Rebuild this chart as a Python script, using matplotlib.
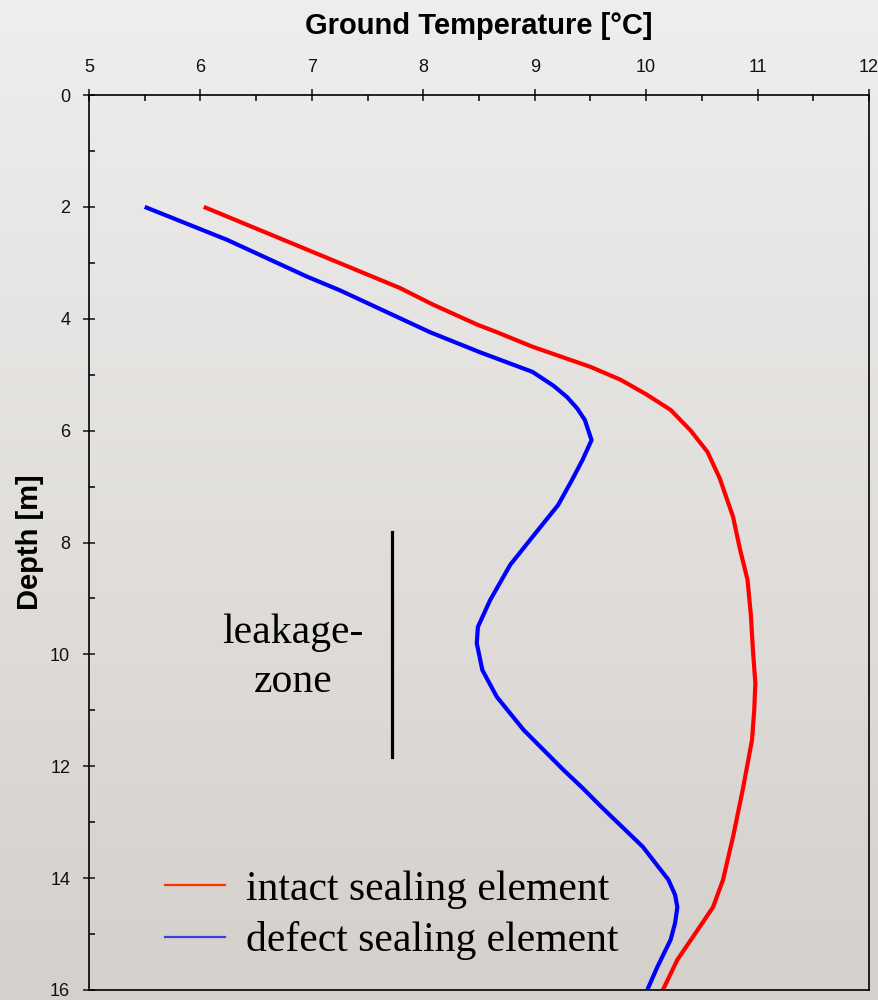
import numpy as np
import matplotlib.pyplot as plt
from matplotlib.lines import Line2D
from matplotlib.ticker import MultipleLocator

# data: depth [m] and ground temperature [C]
depth_intact = [2.0, 3.45, 3.75, 4.11, 4.24, 4.5, 4.86, 5.09, 5.35, 5.63, 6.0, 6.38, 6.85,
                7.54, 8.1, 8.67, 9.3, 9.97, 10.51, 11.0, 11.53, 12.39, 13.26, 14.03, 14.52,
                15.05, 15.46, 16.0]
temp_intact = [6.03, 7.79, 8.09, 8.49, 8.66, 8.98, 9.5, 9.77, 10.0, 10.22, 10.4, 10.55, 10.66,
               10.78, 10.84, 10.91, 10.94, 10.96, 10.98, 10.97, 10.95, 10.87, 10.78, 10.69, 10.6,
               10.42, 10.28, 10.15]

depth_defect = [2.0, 2.59, 3.25, 3.49, 3.99, 4.24, 4.6, 4.95, 5.2, 5.4, 5.6, 5.81, 6.17, 6.52,
                6.9, 7.33, 7.95, 8.4, 9.03, 9.51, 9.8, 10.28, 10.76, 11.35, 12.07, 12.39,
                12.73, 13.44, 14.03, 14.3, 14.52, 14.8, 15.1, 15.59, 16.0]
temp_defect = [5.5, 6.24, 6.96, 7.25, 7.79, 8.06, 8.51, 8.98, 9.17, 9.29, 9.38, 9.45, 9.51, 9.43,
               9.33, 9.21, 8.96, 8.78, 8.6, 8.49, 8.48, 8.53, 8.66, 8.9, 9.26, 9.43,
               9.6, 9.97, 10.2, 10.26, 10.28, 10.26, 10.22, 10.1, 10.01]

labels = ['intact sealing element', 'defect sealing element']

# leakage zone marker
leak_temp = 7.72
leak_top = 7.81
leak_bottom = 11.83

fig = plt.figure(figsize=(8.79, 10), dpi=100)

# gray gradient background
bg = fig.add_axes([0, 0, 1, 1], zorder=-10)
top_c = np.array([239, 238, 237]) / 255
bot_c = np.array([212, 208, 204]) / 255
t = np.linspace(0, 1, 256)[:, None, None]
grad = top_c * (1 - t) + bot_c * t
bg.imshow(np.repeat(grad, 2, axis=1), aspect='auto', extent=[0, 1, 0, 1])
bg.axis('off')

ax = fig.add_axes([89 / 879, 0.01, 780 / 879, 0.895])
ax.patch.set_alpha(0)

ax.plot(temp_intact, depth_intact, color='#ff0000', lw=3, solid_capstyle='butt',
        solid_joinstyle='round')
ax.plot(temp_defect, depth_defect, color='#0000ff', lw=3, solid_capstyle='butt',
        solid_joinstyle='round')
ax.plot([leak_temp, leak_temp], [leak_top, leak_bottom], color='black', lw=2.3)

ax.text(6.83, 10.05, 'leakage-\nzone', family='Liberation Serif', fontsize=30,
        ha='center', va='center', linespacing=1.38)

ax.set_xlim(5, 12)
ax.set_ylim(16, 0)
ax.xaxis.tick_top()
ax.xaxis.set_label_position('top')
ax.xaxis.set_major_locator(MultipleLocator(1))
ax.xaxis.set_minor_locator(MultipleLocator(0.5))
ax.yaxis.set_major_locator(MultipleLocator(2))
ax.yaxis.set_minor_locator(MultipleLocator(1))
ax.tick_params(which='major', direction='inout', length=9, width=1.1,
               labelsize=13, pad=9, colors='#111111')
ax.tick_params(which='minor', direction='in', length=4, width=1.1)
for lbl in ax.get_xticklabels() + ax.get_yticklabels():
    lbl.set_family('Liberation Sans')
for s in ax.spines.values():
    s.set_linewidth(1.2)

ax.set_xlabel('Ground Temperature [°C]', family='Liberation Sans', fontweight='bold',
              fontsize=21, labelpad=18)
ax.set_ylabel('Depth [m]', family='Liberation Sans', fontweight='bold',
              fontsize=21, va='center')
ax.yaxis.set_label_coords((30 - 89) / 780, 0.5)

handles = [Line2D([], [], color='#ff3000', lw=1.6),
           Line2D([], [], color='#4040d8', lw=1.6)]
ax.legend(handles, labels, loc='lower left', bbox_to_anchor=(0.097, 0.033),
          frameon=False, prop={'family': 'Liberation Serif', 'size': 30},
          handlelength=1.45, handletextpad=0.5, labelspacing=0.3, borderpad=0,
          borderaxespad=0)

fig.savefig('out.png', dpi=100)
